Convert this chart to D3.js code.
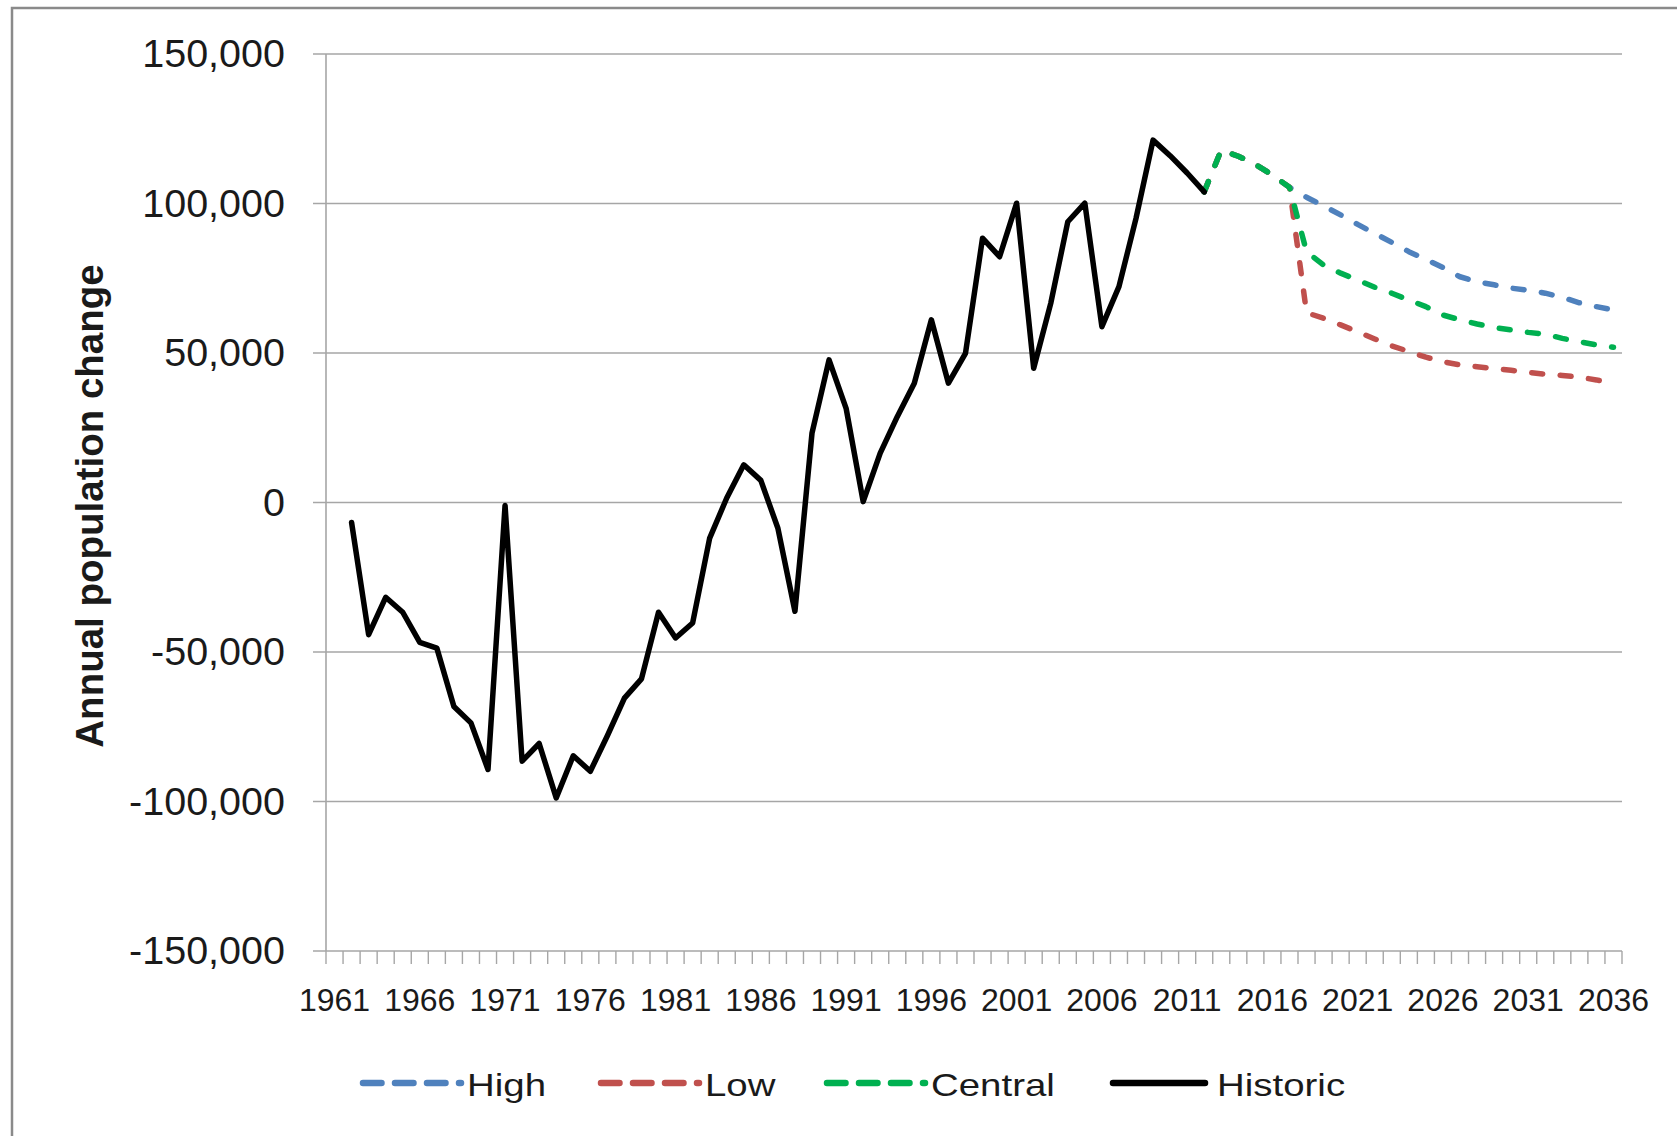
<!DOCTYPE html>
<html>
<head>
<meta charset="utf-8">
<script src="https://cdn.jsdelivr.net/npm/d3@7"></script>
<style>
  body { margin: 0; background: #fff; }
  svg { display: block; }
</style>
</head>
<body>
<div id="chart"></div>
<script>
// categories: one per year, 1961..2036
const years = d3.range(1961, 2037);
const xTickLabels = ['1961', '1966', '1971', '1976', '1981', '1986', '1991', '1996',
  '2001', '2006', '2011', '2016', '2021', '2026', '2031', '2036'];
const yTicks = [-150000, -100000, -50000, 0, 50000, 100000, 150000];

// historic series, 1962..2012
const historicYears = d3.range(1962, 2013);
const historic = [
  -6700, -44200, -31700, -36700, -46800, -48700, -68200, -73700, -89300, -1000,
  -86500, -80600, -98800, -84700, -89900, -78000, -65400, -59000, -36700, -45300,
  -40300, -11900, 1500, 12600, 7400, -8600, -36400, 23200, 47700, 31500,
  300, 16500, 28700, 39900, 61100, 39900, 49900, 88400, 82200, 100100,
  44900, 66600, 93900, 100100, 58800, 72200, 95000, 121200, 116000, 110200,
  103900
];

// projections, 2012..2036
const projYears = d3.range(2012, 2037);
const high = [
  103900, 117900, 115800, 113100, 109500, 105400, 102100, 99200, 96200, 93000,
  90000, 87000, 83900, 81300, 78600, 75500, 73800, 72800, 71700, 71000,
  70000, 68600, 66800, 65500, 64400
];
const low = [
  103900, 117900, 115800, 113100, 109500, 105400, 63500, 61600, 59400, 57100,
  54700, 52400, 50500, 48600, 47100, 46000, 45400, 44800, 44200, 43500,
  42900, 42500, 41900, 41000, 39900
];
const central = [
  103900, 117900, 115800, 113100, 109500, 105400, 83900, 79400, 76700, 74400,
  72000, 70000, 67700, 65500, 62700, 61100, 59700, 58500, 57700, 56900,
  56300, 54900, 53800, 52700, 51900
];

const width = 1677;
const height = 1136;
const plotLeft = 326;
const plotRight = 1622;
const plotTop = 54;
const plotBottom = 951;

const svg = d3.select('#chart').append('svg')
  .attr('width', width)
  .attr('height', height);

// outer frame (cropped at right and bottom)
svg.append('rect')
  .attr('x', 12).attr('y', 8)
  .attr('width', 1720).attr('height', 1200)
  .attr('fill', '#fff')
  .attr('stroke', '#8a8a8a')
  .attr('stroke-width', 2.5);

const x = d3.scalePoint().domain(years).range([plotLeft, plotRight]).padding(0.5);
const y = d3.scaleLinear().domain([-150000, 150000]).range([plotBottom, plotTop]);
const step = x.step();

// gridlines
svg.append('g')
  .selectAll('line')
  .data(yTicks)
  .join('line')
  .attr('x1', plotLeft - 13)
  .attr('x2', plotRight)
  .attr('y1', (d) => y(d))
  .attr('y2', (d) => y(d))
  .attr('stroke', '#a6a6a6')
  .attr('stroke-width', 1.6);

// y axis line
svg.append('line')
  .attr('x1', plotLeft).attr('x2', plotLeft)
  .attr('y1', plotTop).attr('y2', plotBottom)
  .attr('stroke', '#a6a6a6')
  .attr('stroke-width', 1.6);

// x axis ticks on category boundaries
const bounds = years.map((d) => x(d) - step / 2).concat([x(2036) + step / 2]);
svg.append('g')
  .selectAll('line')
  .data(bounds)
  .join('line')
  .attr('x1', (d) => d)
  .attr('x2', (d) => d)
  .attr('y1', plotBottom)
  .attr('y2', plotBottom + 13)
  .attr('stroke', '#a6a6a6')
  .attr('stroke-width', 1.4);

// y tick labels
svg.append('g')
  .selectAll('text')
  .data(yTicks)
  .join('text')
  .attr('x', 285)
  .attr('y', (d) => y(d) + 13)
  .attr('text-anchor', 'end')
  .style('font-family', '"Liberation Sans", Arial, sans-serif')
  .style('font-size', '39.5px')
  .attr('fill', '#1a1a1a')
  .text((d) => d3.format(',')(d).replace('−', '-'));

// x tick labels
svg.append('g')
  .selectAll('text')
  .data(xTickLabels)
  .join('text')
  .attr('x', (d) => x(+d))
  .attr('y', 1011)
  .attr('text-anchor', 'middle')
  .style('font-family', '"Liberation Sans", Arial, sans-serif')
  .style('font-size', '32px')
  .attr('fill', '#1a1a1a')
  .text((d) => d);

// y axis title
svg.append('text')
  .attr('transform', 'translate(103,506) rotate(-90)')
  .attr('text-anchor', 'middle')
  .style('font-family', '"Liberation Sans", Arial, sans-serif')
  .style('font-size', '38.5px')
  .style('font-weight', 'bold')
  .attr('fill', '#1a1a1a')
  .text('Annual population change');

const line = d3.line()
  .x((d) => x(d[0]))
  .y((d) => y(d[1]));

const series = [
  { name: 'High', years: projYears, values: high, color: '#4f81bd', dash: true },
  { name: 'Low', years: projYears, values: low, color: '#c0504d', dash: true },
  { name: 'Central', years: projYears, values: central, color: '#00b050', dash: true },
  { name: 'Historic', years: historicYears, values: historic, color: '#000000', dash: false },
];

series.forEach((s) => {
  svg.append('path')
    .datum(s.years.map((yr, i) => [yr, s.values[i]]))
    .attr('d', line)
    .attr('fill', 'none')
    .attr('stroke', s.color)
    .attr('stroke-width', 5.5)
    .attr('stroke-linejoin', 'round')
    .attr('stroke-linecap', 'round')
    .attr('stroke-dasharray', s.dash ? '11,17.5' : null);
});

// legend
const legendStarts = [360, 598, 824, 1110];
const legendY = 1083;
const legend = svg.append('g');
series.forEach((s, i) => {
  const sx = legendStarts[i];
  legend.append('line')
    .attr('x1', sx + 3).attr('x2', sx + (s.dash ? 101 : 95))
    .attr('y1', legendY).attr('y2', legendY)
    .attr('stroke', s.color)
    .attr('stroke-width', 6.5)
    .attr('stroke-linecap', 'round')
    .attr('stroke-dasharray', s.dash ? '18.5,13.5' : null);
  legend.append('text')
    .attr('transform', `translate(${sx + 107},${legendY + 13}) scale(1.26,1)`)
    .style('font-family', '"Liberation Sans", Arial, sans-serif')
    .style('font-size', '30.5px')
    .attr('fill', '#1a1a1a')
    .text(s.name);
});
</script>
</body>
</html>
